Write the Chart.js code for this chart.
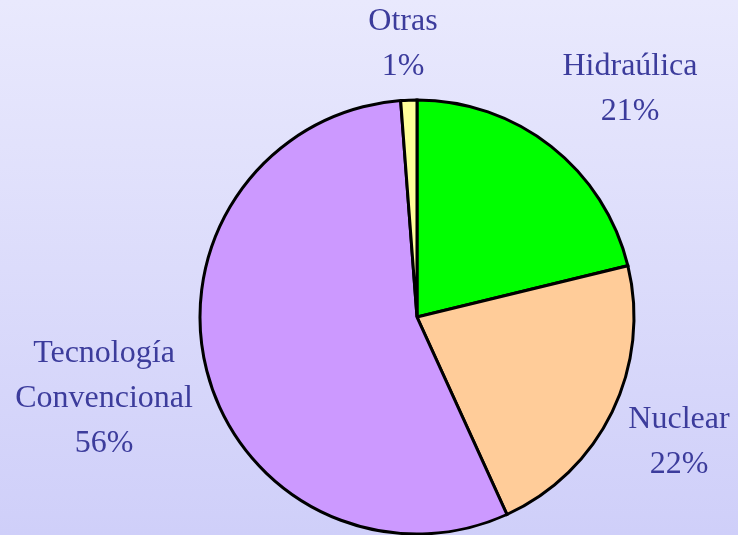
<!DOCTYPE html>
<html>
<head>
<meta charset="utf-8">
<script src="https://cdn.jsdelivr.net/npm/chart.js@4.4.1/dist/chart.umd.min.js"></script>
<style>
  html, body { margin: 0; padding: 0; }
  body { width: 738px; height: 535px; overflow: hidden;
         background: linear-gradient(#e9e9fd, #cfcff9); }
  canvas { display: block; }
</style>
</head>
<body>
<canvas id="pie-chart" width="738" height="535"></canvas>
<script>
// slices, clockwise from 12 o'clock
const sliceNames = ["Hidraúlica", "Nuclear", "Tecnología\nConvencional", "Otras"];
const sliceValues = [21.2, 22.0, 55.6, 1.2];
const sliceColors = ['#00ff00', '#ffcc99', '#cc99ff', '#ffff99'];

// where each label block sits (centre x, baseline of first line)
const labelAnchors = [[630, 75], [679, 428], [104, 362], [403, 30]];

const labelFont = '32px "Liberation Serif", "Times New Roman", serif';
const labelColor = '#3c3c9c';
const lineGap = 45;

const outsideLabels = {
    id: 'outsideLabels',
    afterDraw(chart) {
        const ctx = chart.ctx;
        const total = sliceValues.reduce((a, b) => a + b, 0);
        ctx.save();
        ctx.font = labelFont;
        ctx.fillStyle = labelColor;
        ctx.textAlign = 'center';
        ctx.textBaseline = 'alphabetic';
        sliceNames.forEach((name, i) => {
            const lines = name.split("\n");
            lines.push(Math.round(sliceValues[i] / total * 100) + "%");
            const [x, y] = labelAnchors[i];
            lines.forEach((line, j) => {
                ctx.fillText(line, x, y + j * lineGap);
            });
        });
        ctx.restore();
    }
};

const ctx = document.getElementById('pie-chart');

const chart = new Chart(ctx, {
    type: 'pie',
    data: {
        labels: sliceNames,
        datasets: [{
            data: sliceValues,
            backgroundColor: sliceColors,
            borderColor: '#000000',
            borderWidth: 3,
            borderJoinStyle: 'miter'
        }]
    },
    options: {
        responsive: false,
        animation: false,
        radius: 217,
        layout: {
            padding: { left: 199, right: 103, top: 99, bottom: 0 }
        },
        plugins: {
            legend: { display: false },
            tooltip: { enabled: false }
        }
    },
    plugins: [outsideLabels]
});
</script>
</body>
</html>
